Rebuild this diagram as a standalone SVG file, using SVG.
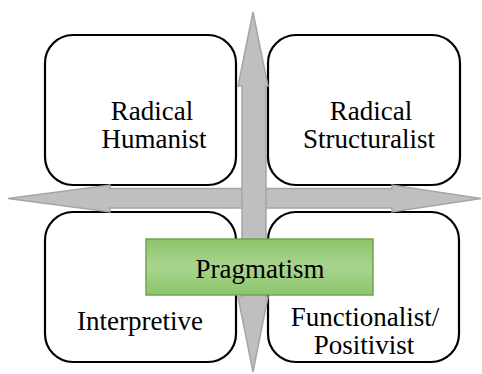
<svg xmlns="http://www.w3.org/2000/svg" width="482" height="374" viewBox="0 0 482 374">
<defs>
<linearGradient id="g" x1="0" y1="0" x2="0" y2="1">
<stop offset="0" stop-color="#8cc56a"/>
<stop offset="0.5" stop-color="#a9d48f"/>
<stop offset="1" stop-color="#8cc56a"/>
</linearGradient>
<style>
.box{fill:#fff;stroke:#000;stroke-width:2.2}
.arr{fill:#bfbfbf;stroke:#a5a5a5;stroke-width:1.5;stroke-linejoin:miter}
.t{font-family:"Liberation Serif","Times New Roman",serif;font-size:27px;fill:#000;text-anchor:middle}
</style>
</defs>
<g id="radical-humanist">
<rect class="box" x="45" y="35" width="191" height="150" rx="28"/>
<text class="t" x="152" y="120">Radical</text>
<text class="t" x="154" y="148">Humanist</text>
</g>
<g id="radical-structuralist">
<rect class="box" x="268" y="35" width="192" height="150" rx="28"/>
<text class="t" x="371" y="120">Radical</text>
<text class="t" x="369" y="148">Structuralist</text>
</g>
<g id="interpretive">
<rect class="box" x="45" y="212" width="191" height="150" rx="28"/>
<text class="t" x="140" y="330">Interpretive</text>
</g>
<g id="functionalist">
<rect class="box" x="268" y="212" width="191" height="150" rx="28"/>
<text class="t" x="365" y="326">Functionalist/</text>
<text class="t" x="364" y="354">Positivist</text>
</g>
<g id="connectors">
<polygon class="arr" points="8,198.5 110,185 110,188.5 392,188.5 392,185 481,198.5 392,212 392,208 110,208 110,212"/>
<polygon class="arr" points="253,12 268,86 266,86 266,297 268,297 253,372 238,297 242,297 242,86 238,86"/>
</g>
<g id="pragmatism">
<rect x="146" y="239" width="227" height="56" fill="url(#g)" stroke="#6aa84a" stroke-width="1.5"/>
<text class="t" x="260" y="278">Pragmatism</text>
</g>
</svg>
